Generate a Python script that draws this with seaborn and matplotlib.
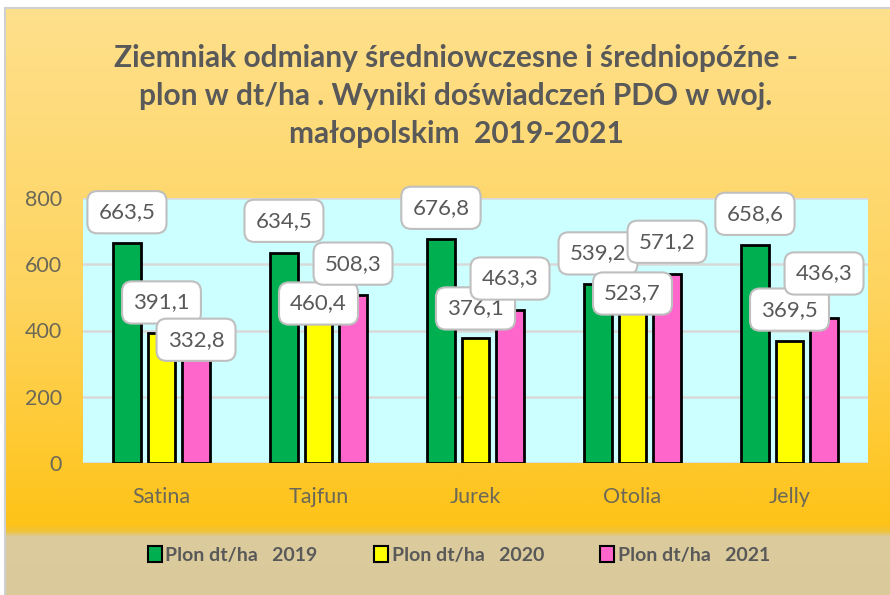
import numpy as np
import pandas as pd
import matplotlib
matplotlib.use('Agg')
import matplotlib.pyplot as plt
import matplotlib.patches as mpatches
from matplotlib.colors import to_rgb
import seaborn as sns

# ── data ─────────────────────────────────────────────────────────────
odmiany = ['Satina', 'Tajfun', 'Jurek', 'Otolia', 'Jelly']
serie = ['Plon dt/ha   2019', 'Plon dt/ha   2020', 'Plon dt/ha   2021']
plon_2019 = [663.5, 634.5, 676.8, 539.2, 658.6]
plon_2020 = [391.1, 460.4, 376.1, 523.7, 369.5]
plon_2021 = [332.8, 508.3, 463.3, 571.2, 436.3]
y_ticks = [0, 200, 400, 600, 800]

kolory = ['#00B050', '#FFFF00', '#FF66CC']
# callout offsets above bar tops, in pixels (one list per series)
label_dy = [[31, 32, 31, 31, 31],
            [31, 7, 30, -4, 31],
            [13, 31, 31, 32, 45]]

df = pd.DataFrame({
    'odmiana': odmiany * 3,
    'seria': np.repeat(serie, len(odmiany)),
    'plon': plon_2019 + plon_2020 + plon_2021,
})

sns.set_style('white')
plt.rcParams['font.family'] = ['Lato', 'DejaVu Sans']

W, H = 890, 595
fig = plt.figure(figsize=(W / 100, H / 100), dpi=100)
fig.patch.set_facecolor('white')

# ── background panel with vertical gradient ──────────────────────────
stops = [(8, '#FFE08C'), (300, '#FED45E'), (525, '#FEC318'),
         (532, '#EFC23C'), (537, '#DCCB9D'), (595, '#DAC99B')]
rows = np.arange(8, 596)
sy = [s[0] for s in stops]
grad = np.stack([np.interp(rows, sy, [to_rgb(c)[k] for _, c in stops]) for k in range(3)], axis=-1)
bg = fig.add_axes([5 / W, 0, 1 - 5 / W, 1 - 8 / H], zorder=0)
bg.imshow(grad[:, None, :], aspect='auto', extent=[0, 1, 0, 1], origin='upper')
bg.set_xticks([])
bg.set_yticks([])
for side in ['right', 'bottom']:
    bg.spines[side].set_visible(False)
for side in ['left', 'top']:
    bg.spines[side].set_color('#D0D0D0')
    bg.spines[side].set_linewidth(1.5)

# ── bars ─────────────────────────────────────────────────────────────
ax = fig.add_axes([83 / W, 1 - 463 / H, (868 - 83) / W, (463 - 198) / H], zorder=1)
ax.set_facecolor('#CCFFFF')
sns.barplot(data=df, x='odmiana', y='plon', hue='seria', hue_order=serie,
            palette=kolory, saturation=1, width=0.66, gap=0.19,
            edgecolor='black', linewidth=2, errorbar=None, legend=False,
            ax=ax, zorder=3)

ax.set_xlim(-0.5, len(odmiany) - 0.5)
ax.set_ylim(0, 800)
ax.set_yticks(y_ticks)
ax.grid(axis='y', color='#D9D9D9', linewidth=1.8)
ax.set_axisbelow(True)
for s in ax.spines.values():
    s.set_visible(False)
ax.set_xlabel('')
ax.set_ylabel('')
ax.tick_params(axis='y', length=0, labelsize=15.5, labelcolor='#6B6858', pad=15)
ax.tick_params(axis='x', length=0, labelsize=15.5, labelcolor='#6B6858', pad=17)

for i, cont in enumerate(ax.containers):
    for j, bar in enumerate(cont):
        x = bar.get_x() + bar.get_width() / 2
        h = bar.get_height()
        ax.annotate(f'{h:.1f}'.replace('.', ','), xy=(x, h),
                    xytext=(0, label_dy[i][j] * 0.72), textcoords='offset points',
                    ha='center', va='center', fontsize=16, color='#595959',
                    bbox=dict(boxstyle='round,pad=0.5,rounding_size=0.45',
                              fc='white', ec='#BFBFBF', lw=1.5),
                    zorder=5, annotation_clip=False)

# ── title and legend ─────────────────────────────────────────────────
tytul = ('Ziemniak odmiany średniowczesne i średniopóźne -\n'
         'plon w dt/ha . Wyniki doświadczeń PDO w woj.\n'
         'małopolskim  2019-2021')
fig.text(456 / W, 1 - 96 / H, tytul, ha='center', va='center', fontsize=21.5,
         fontweight='bold', color='#595959', linespacing=1.45)

handles = [mpatches.Patch(facecolor=c, edgecolor='black', linewidth=1.5, label=l)
           for c, l in zip(kolory, serie)]
fig.legend(handles=handles, loc='center', bbox_to_anchor=(459 / W, 1 - 555 / H),
           ncol=3, frameon=False, prop={'weight': 'bold', 'size': 14},
           labelcolor='#595959', handlelength=0.7, handleheight=0.9,
           handletextpad=0.2, columnspacing=2.9)

plt.savefig('out.png', dpi=100)
plt.close()
